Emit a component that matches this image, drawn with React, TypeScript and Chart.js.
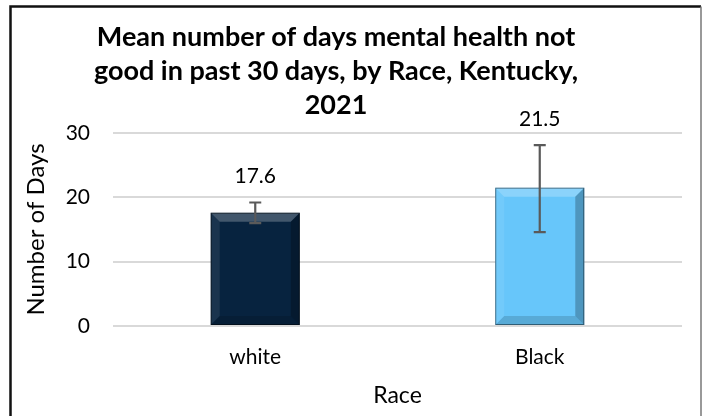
import React, { useEffect, useRef } from "react";
import { Chart, registerables } from "chart.js";

Chart.register(...registerables);

const categories = ["white", "Black"];
const meanDays = [17.6, 21.5];
const lowerCI = [16.0, 14.6];
const upperCI = [19.2, 28.1];
const barColors = ["#07233F", "#67C6FA"];
const titleLines = [
  "Mean number of days mental health not",
  "good in past 30 days, by Race, Kentucky,",
  "2021",
];
const yMin = 0;
const yMax = 30;
const yStep = 10;
const xTitle = "Race";
const yTitle = "Number of Days";

const FONT = "Lato, 'Noto Sans', sans-serif";

const framePlugin = {
  id: "frame",
  beforeDraw(chart: any) {
    const ctx = chart.ctx;
    ctx.save();
    ctx.fillStyle = "#ffffff";
    ctx.fillRect(0, 0, chart.width, chart.height);
    ctx.strokeStyle = "#111111";
    ctx.lineWidth = 2.5;
    ctx.beginPath();
    ctx.moveTo(10.5, chart.height + 5);
    ctx.lineTo(10.5, 6.5);
    ctx.lineTo(chart.width - 1, 6.5);
    ctx.stroke();
    ctx.strokeStyle = "#777777";
    ctx.lineWidth = 1.5;
    ctx.beginPath();
    ctx.moveTo(chart.width - 1, 6.5);
    ctx.lineTo(chart.width - 1, chart.height + 5);
    ctx.stroke();
    ctx.restore();
  },
  afterDraw(chart: any) {
    const ctx = chart.ctx;
    ctx.save();
    ctx.fillStyle = "#000000";
    ctx.font = `bold 27px ${FONT}`;
    ctx.textAlign = "center";
    ctx.textBaseline = "alphabetic";
    const baselines = [46, 80, 114];
    titleLines.forEach((line, i) => {
      ctx.fillText(line, 336, baselines[i]);
    });
    ctx.restore();
  },
};

const bevelPlugin = {
  id: "bevel",
  afterDatasetsDraw(chart: any) {
    const ctx = chart.ctx;
    const meta = chart.getDatasetMeta(0);
    const yScale = chart.scales.y;
    meta.data.forEach((bar: any, i: number) => {
      const L = bar.x - bar.width / 2;
      const R = bar.x + bar.width / 2;
      const T = bar.y;
      const B = bar.base;
      const b = Math.min(9, (B - T) / 2);
      const poly = (pts: number[][], color: string) => {
        ctx.beginPath();
        ctx.moveTo(pts[0][0], pts[0][1]);
        for (let k = 1; k < pts.length; k++) ctx.lineTo(pts[k][0], pts[k][1]);
        ctx.closePath();
        ctx.fillStyle = color;
        ctx.fill();
      };
      ctx.save();
      poly([[L, T], [R, T], [R - b, T + b], [L + b, T + b]], "rgba(255,255,255,0.24)");
      poly([[L, T], [L + b, T + b], [L + b, B - b], [L, B]], "rgba(255,255,255,0.08)");
      poly([[R, T], [R, B], [R - b, B - b], [R - b, T + b]], "rgba(0,0,0,0.24)");
      poly([[L, B], [R, B], [R - b, B - b], [L + b, B - b]], "rgba(0,0,0,0.14)");
      ctx.strokeStyle = "rgba(0,0,0,0.45)";
      ctx.lineWidth = 1;
      ctx.strokeRect(L + 0.5, T + 0.5, R - L - 1, B - T - 1);

      // error bars
      const yTop = yScale.getPixelForValue(upperCI[i]);
      const yBot = yScale.getPixelForValue(lowerCI[i]);
      ctx.strokeStyle = "#5A5A5A";
      ctx.lineWidth = 2.2;
      ctx.beginPath();
      ctx.moveTo(bar.x, yTop);
      ctx.lineTo(bar.x, yBot);
      ctx.moveTo(bar.x - 6, yTop);
      ctx.lineTo(bar.x + 6, yTop);
      ctx.moveTo(bar.x - 6, yBot);
      ctx.lineTo(bar.x + 6, yBot);
      ctx.stroke();

      // value labels
      ctx.fillStyle = "#000000";
      ctx.font = `21px ${FONT}`;
      ctx.textAlign = "center";
      ctx.textBaseline = "middle";
      ctx.fillText(meanDays[i].toFixed(1), bar.x, yTop - 26);
      ctx.restore();
    });
  },
};

export default function App() {
  const ref = useRef<HTMLCanvasElement | null>(null);
  useEffect(() => {
    if (!ref.current) return;
    const chart = new Chart(ref.current, {
      type: "bar",
      data: {
        labels: categories,
        datasets: [
          {
            data: meanDays,
            backgroundColor: barColors,
            borderWidth: 0,
            barPercentage: 0.313,
            categoryPercentage: 1,
          },
        ],
      },
      options: {
        responsive: false,
        animation: false,
        devicePixelRatio: 1,
        layout: { padding: { left: 12, right: 20, top: 133, bottom: 0 } },
        plugins: {
          legend: { display: false },
          title: { display: false },
          tooltip: { enabled: false },
        },
        scales: {
          x: {
            grid: { display: false, drawTicks: false },
            border: { display: false },
            ticks: { color: "#000", font: { family: FONT, size: 21 }, padding: 19 },
            title: {
              display: true,
              text: xTitle,
              color: "#000",
              font: { family: FONT, size: 23 },
              padding: { top: 0, bottom: 7 },
            },
            afterFit: (s: any) => {
              s.height = 90;
            },
          },
          y: {
            min: yMin,
            max: yMax,
            grid: { color: "#D9D9D9", lineWidth: 2, drawTicks: false },
            border: { display: false },
            ticks: {
              stepSize: yStep,
              color: "#000",
              font: { family: FONT, size: 21 },
              padding: 23,
            },
            title: {
              display: true,
              text: yTitle,
              color: "#000",
              font: { family: FONT, size: 24 },
              padding: { top: 10, bottom: 0 },
            },
            afterFit: (s: any) => {
              s.width = 101;
            },
          },
        },
      },
      plugins: [framePlugin, bevelPlugin],
    });
    return () => chart.destroy();
  }, []);
  return (
    <div style={{ position: "fixed", left: 0, top: 0, width: 702, height: 416 }}>
      <canvas ref={ref} width={702} height={416} style={{ display: "block", width: 702, height: 416 }} />
    </div>
  );
}
